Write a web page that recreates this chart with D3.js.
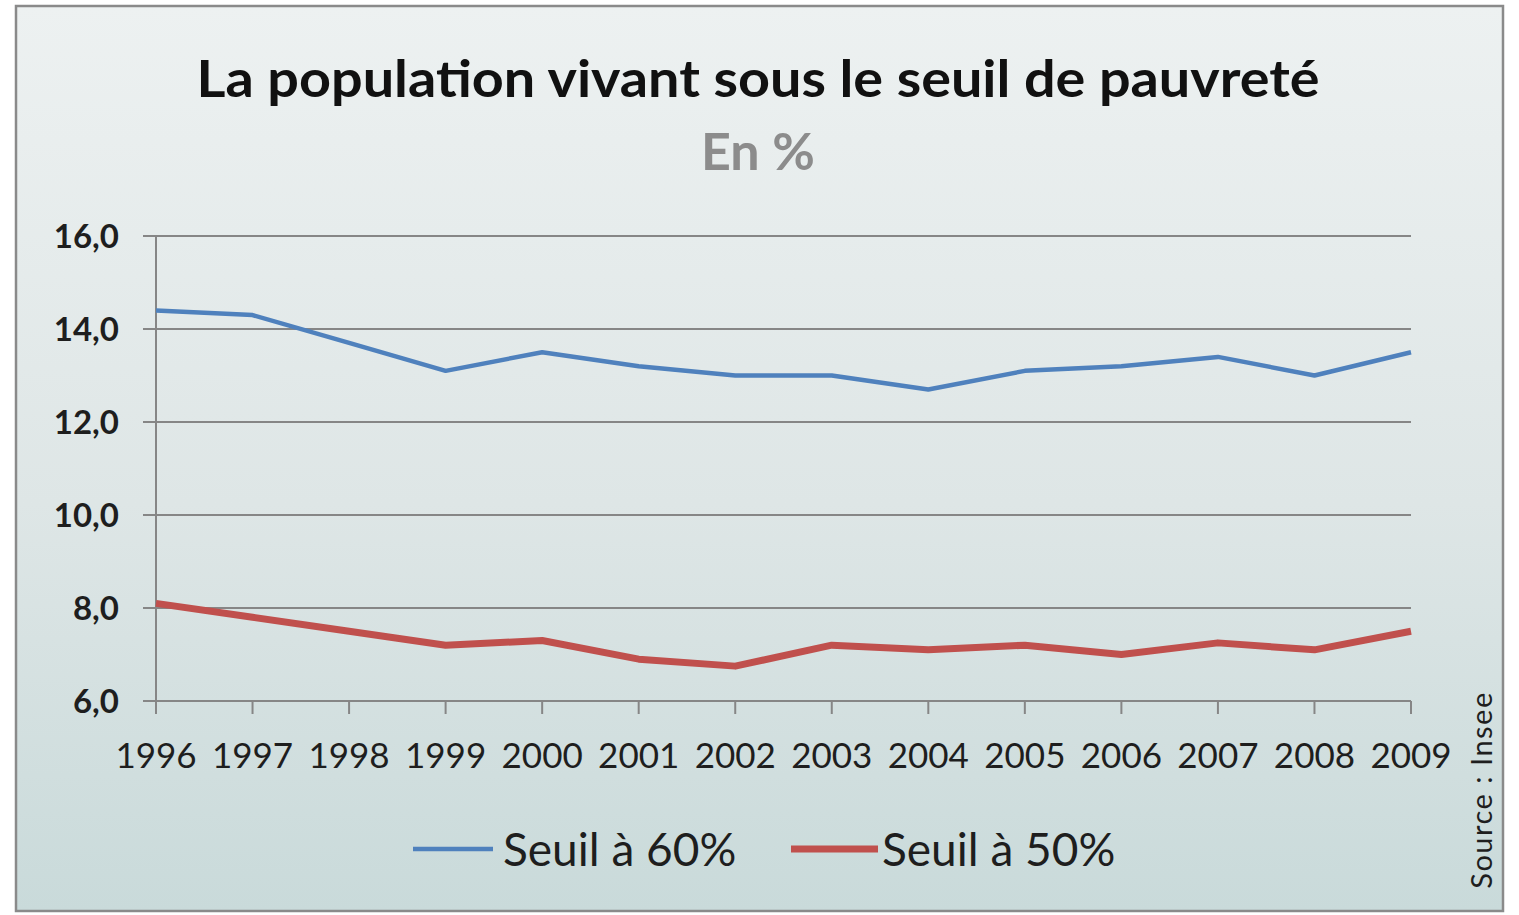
<!DOCTYPE html>
<html>
<head>
<meta charset="utf-8">
<script src="https://cdn.jsdelivr.net/npm/d3@7/dist/d3.min.js"></script>
<style>
  body { margin: 0; background: #ffffff; }
  text { font-family: Lato, "Open Sans", sans-serif; }
</style>
</head>
<body>
<script>
// donnees
const years = ["1996","1997","1998","1999","2000","2001","2002","2003","2004","2005","2006","2007","2008","2009"];
const seuil60 = [14.4, 14.3, 13.7, 13.1, 13.5, 13.2, 13.0, 13.0, 12.7, 13.1, 13.2, 13.4, 13.0, 13.5];
const seuil50 = [8.1, 7.8, 7.5, 7.2, 7.3, 6.9, 6.75, 7.2, 7.1, 7.2, 7.0, 7.25, 7.1, 7.5];
const yTicks = [6, 8, 10, 12, 14, 16];

const W = 1519, H = 915;
let svg = d3.select("body").append("svg").attr("width", W).attr("height", H);

let defs = svg.append("defs");
let grad = defs.append("linearGradient").attr("id", "bg")
    .attr("x1", 0).attr("y1", 0).attr("x2", 0).attr("y2", 1);
grad.append("stop").attr("offset", "0%").attr("stop-color", "#edf1f1");
grad.append("stop").attr("offset", "55%").attr("stop-color", "#dee6e6");
grad.append("stop").attr("offset", "100%").attr("stop-color", "#c9dada");

// cadre
svg.append("rect")
    .attr("x", 16).attr("y", 6).attr("width", 1487).attr("height", 905)
    .attr("fill", "url(#bg)").attr("stroke", "#8a8a8a").attr("stroke-width", 2.5);

let x = d3.scalePoint().domain(years).range([156, 1411]);
let y = d3.scaleLinear().domain([6, 16]).range([701, 236]);

// grille
svg.append("g").selectAll("line").data(yTicks).enter().append("line")
    .attr("x1", 143).attr("x2", 1411)
    .attr("y1", d => y(d)).attr("y2", d => y(d))
    .attr("stroke", "#868686").attr("stroke-width", 2);

// axe vertical
svg.append("line").attr("x1", 156).attr("x2", 156).attr("y1", 236).attr("y2", 701)
    .attr("stroke", "#868686").attr("stroke-width", 2);

// graduations x
svg.append("g").selectAll("line").data(years).enter().append("line")
    .attr("x1", d => x(d)).attr("x2", d => x(d))
    .attr("y1", 701).attr("y2", 714)
    .attr("stroke", "#868686").attr("stroke-width", 2);

// etiquettes y
svg.append("g").selectAll("text").data(yTicks).enter().append("text")
    .attr("x", 119).attr("y", d => y(d) + 12)
    .attr("text-anchor", "end")
    .attr("font-size", 33).attr("font-weight", "bold").attr("fill", "#1e1e1e")
    .text(d => d3.format(".1f")(d).replace(".", ","));

// etiquettes x
svg.append("g").selectAll("text").data(years).enter().append("text")
    .attr("x", d => x(d)).attr("y", 768)
    .attr("text-anchor", "middle")
    .attr("font-size", 35).attr("fill", "#1e1e1e")
    .text(d => d);

// courbes
let line = d3.line().x((d, i) => x(years[i])).y(d => y(d));

svg.append("path").datum(seuil50)
    .attr("d", line).attr("fill", "none")
    .attr("stroke", "#c0504d").attr("stroke-width", 7).attr("stroke-linejoin", "round");

svg.append("path").datum(seuil60)
    .attr("d", line).attr("fill", "none")
    .attr("stroke", "#4f81bd").attr("stroke-width", 4.5).attr("stroke-linejoin", "round");

// titres
svg.append("text").attr("x", 758).attr("y", 97).attr("text-anchor", "middle")
    .attr("font-size", 52).attr("font-weight", "bold").attr("fill", "#111111")
    .attr("textLength", 1123).attr("lengthAdjust", "spacingAndGlyphs")
    .text("La population vivant sous le seuil de pauvreté");
svg.append("text").attr("x", 758).attr("y", 170).attr("text-anchor", "middle")
    .attr("font-size", 52).attr("font-weight", "bold").attr("fill", "#8c8c8c")
    .text("En %");

// legende
const legend = [
    {label: "Seuil à 60%", color: "#4f81bd", w: 4.5, x0: 413, x1: 493, tx: 503},
    {label: "Seuil à 50%", color: "#c0504d", w: 7, x0: 791, x1: 878, tx: 882}
];
let lg = svg.append("g").selectAll("g").data(legend).enter().append("g");
lg.append("line").attr("x1", d => d.x0).attr("x2", d => d.x1)
    .attr("y1", 849).attr("y2", 849)
    .attr("stroke", d => d.color).attr("stroke-width", d => d.w);
lg.append("text").attr("x", d => d.tx).attr("y", 866)
    .attr("font-size", 46).attr("fill", "#1e1e1e")
    .text(d => d.label);

// source
svg.append("text")
    .attr("transform", "translate(1492,790) rotate(-90)")
    .attr("text-anchor", "middle")
    .attr("font-size", 29).attr("letter-spacing", 1.5).attr("fill", "#1e1e1e")
    .text("Source : Insee");
</script>
</body>
</html>
